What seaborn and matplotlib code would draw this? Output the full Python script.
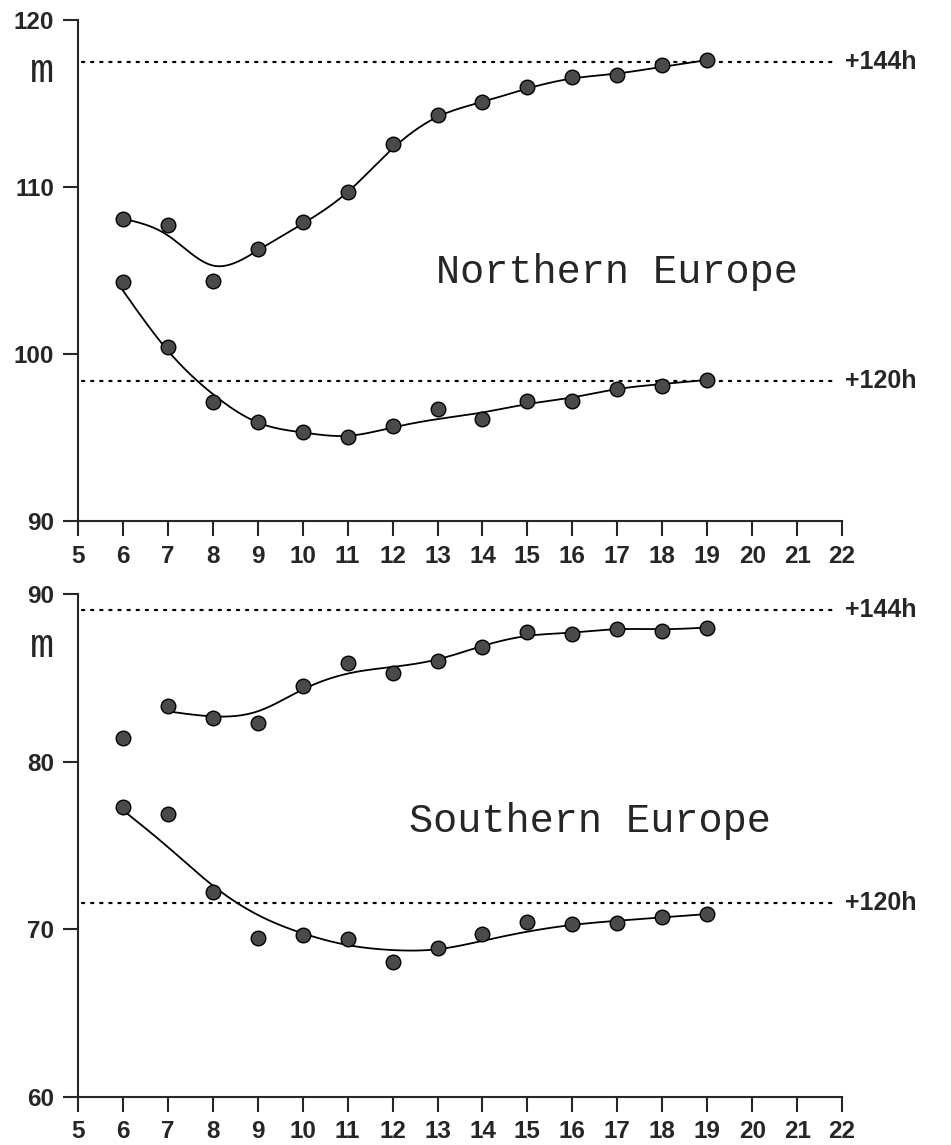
import numpy as np
import matplotlib
matplotlib.use("Agg")
import matplotlib.pyplot as plt
import seaborn as sns

# Forecast day (x) and mean geopotential height in m (y)
days = list(range(6, 20))

# Northern Europe
north_144_pts = [108.1, 107.7, 104.4, 106.3, 107.9, 109.7, 112.6, 114.3,
                 115.1, 116.0, 116.6, 116.7, 117.3, 117.6]
north_120_pts = [104.3, 100.4, 97.1, 95.9, 95.35, 95.0, 95.7, 96.7,
                 96.1, 97.2, 97.2, 97.9, 98.1, 98.45]
north_144_fit_x = list(range(6, 20))
north_144_fit = [108.1, 107.1, 105.3, 106.2, 107.8, 109.7, 112.3, 114.2,
                 115.1, 115.9, 116.5, 116.8, 117.2, 117.6]
north_120_fit_x = list(range(6, 20))
north_120_fit = [103.8, 100.2, 97.6, 95.9, 95.3, 95.1, 95.6, 96.1,
                 96.5, 97.0, 97.4, 97.9, 98.2, 98.45]
north_ref = {"+144h": 117.5, "+120h": 98.4}

# Southern Europe
south_144_pts = [81.4, 83.3, 82.6, 82.3, 84.5, 85.9, 85.3, 86.0,
                 86.85, 87.75, 87.6, 87.9, 87.8, 88.0]
south_120_pts = [77.3, 76.9, 72.2, 69.45, 69.65, 69.4, 68.05, 68.9,
                 69.7, 70.4, 70.3, 70.35, 70.7, 70.9]
south_144_fit_x = list(range(7, 20))
south_144_fit = [83.0, 82.7, 83.0, 84.3, 85.25, 85.65, 86.1,
                 86.9, 87.5, 87.7, 87.9, 87.9, 88.0]
south_120_fit_x = list(range(6, 20))
south_120_fit = [77.1, 74.9, 72.6, 70.85, 69.75, 69.05, 68.75, 68.8,
                 69.3, 69.85, 70.25, 70.5, 70.7, 70.9]
south_ref = {"+144h": 89.05, "+120h": 71.55}

x_ticks = list(range(5, 23))


def natural_spline(x, y, n=300):
    """Smooth curve through the fitted values (natural cubic spline)."""
    x = np.asarray(x, float)
    y = np.asarray(y, float)
    m = len(x)
    h = np.diff(x)
    A = np.zeros((m, m))
    b = np.zeros(m)
    A[0, 0] = A[-1, -1] = 1.0
    for i in range(1, m - 1):
        A[i, i - 1] = h[i - 1]
        A[i, i] = 2 * (h[i - 1] + h[i])
        A[i, i + 1] = h[i]
        b[i] = 3 * ((y[i + 1] - y[i]) / h[i] - (y[i] - y[i - 1]) / h[i - 1])
    c = np.linalg.solve(A, b)
    xs = np.linspace(x[0], x[-1], n)
    k = np.clip(np.searchsorted(x, xs) - 1, 0, m - 2)
    dx = xs - x[k]
    bk = (y[k + 1] - y[k]) / h[k] - h[k] * (2 * c[k] + c[k + 1]) / 3
    dk = (c[k + 1] - c[k]) / (3 * h[k])
    return xs, y[k] + bk * dx + c[k] * dx ** 2 + dk * dx ** 3


sns.set_style("ticks")
plt.rcParams["font.family"] = ["Liberation Sans", "DejaVu Sans"]

fig = plt.figure(figsize=(9.51, 11.45), dpi=100)
ax_top = fig.add_axes([0.0820, 0.5450, 0.8034, 0.4375])
ax_bot = fig.add_axes([0.0820, 0.0422, 0.8034, 0.4390])

mono = ["Liberation Mono", "DejaVu Sans Mono"]
label_font = dict(family=["Liberation Sans", "DejaVu Sans"], weight="bold", size=18)

panels = [
    (ax_top, (90, 120), [90, 100, 110, 120], north_144_pts, north_120_pts,
     (north_144_fit_x, north_144_fit), (north_120_fit_x, north_120_fit),
     north_ref, "Northern Europe", (17.0, 104.25), (4.21, 116.3)),
    (ax_bot, (60, 90), [60, 70, 80, 90], south_144_pts, south_120_pts,
     (south_144_fit_x, south_144_fit), (south_120_fit_x, south_120_fit),
     south_ref, "Southern Europe", (16.4, 75.82), (4.21, 86.25)),
]

for (ax, ylim, yticks, pts144, pts120, fit144, fit120, ref, title,
     title_xy, unit_xy) in panels:
    # reference levels (dotted) with their labels
    for lab, val in ref.items():
        ax.plot([5.1, 21.8], [val, val], color="black", lw=1.6,
                linestyle=(0, (1, 3.1)), dash_capstyle="round")
        ax.text(22.07, val, lab, ha="left", va="center", clip_on=False,
                **label_font)

    # smoothed curves
    for fx, fy in (fit144, fit120):
        xs, ys = natural_spline(fx, fy)
        sns.lineplot(x=xs, y=ys, ax=ax, color="black", lw=1.3,
                     estimator=None, sort=False)

    # daily values
    for pts in (pts144, pts120):
        sns.scatterplot(x=days, y=pts, ax=ax, s=110, color="#4a4a4a",
                        edgecolor="black", linewidth=1.0, zorder=5)

    ax.set_xlim(5, 22)
    ax.set_ylim(*ylim)
    ax.set_xticks(x_ticks)
    ax.set_yticks(yticks)
    ax.tick_params(direction="out", length=11, width=1.5, pad=6,
                   labelsize=17.5)
    for lbl in ax.get_xticklabels() + ax.get_yticklabels():
        lbl.set_fontweight("bold")
    sns.despine(ax=ax)
    for sp in ("left", "bottom"):
        ax.spines[sp].set_linewidth(1.5)

    ax.text(*title_xy, title, family=mono, size=29, ha="center",
            va="baseline")
    ax.text(*unit_xy, "m", family=mono, size=29, ha="center", va="baseline",
            clip_on=False)

fig.savefig("out.png", dpi=100)
